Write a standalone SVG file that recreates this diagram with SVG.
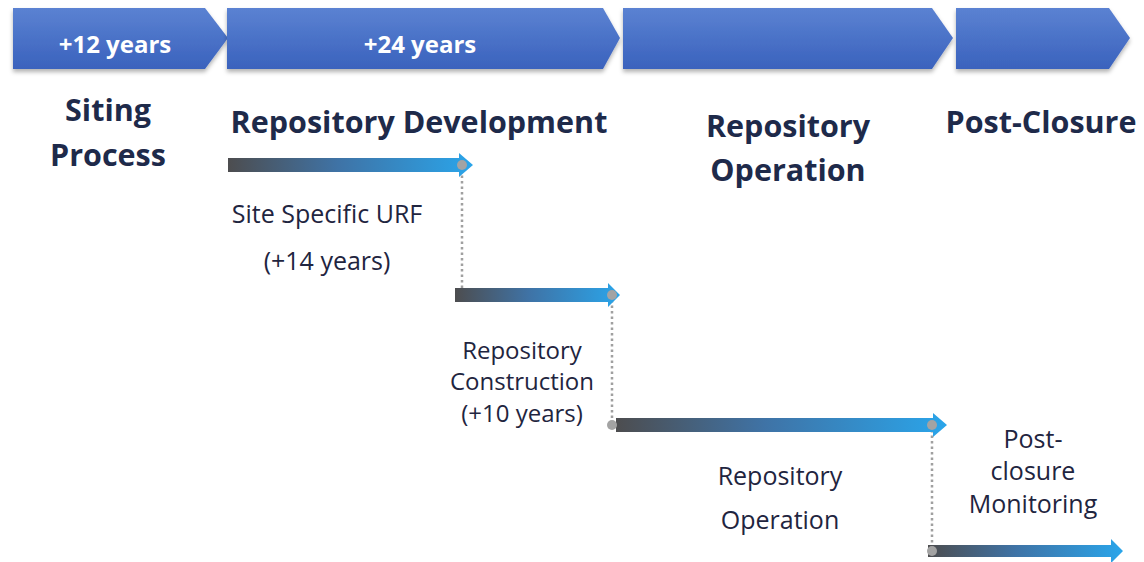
<svg xmlns="http://www.w3.org/2000/svg" width="1144" height="562" viewBox="0 0 1144 562">
<defs>
<linearGradient id="chev" x1="0" y1="0" x2="0" y2="1">
<stop offset="0" stop-color="#5b82d2"/>
<stop offset="1" stop-color="#3a62bd"/>
</linearGradient>
<linearGradient id="bar" x1="0" y1="0" x2="1" y2="0">
<stop offset="0" stop-color="#4d4d4f"/>
<stop offset="0.45" stop-color="#3f73a6"/>
<stop offset="1" stop-color="#2aa5ea"/>
</linearGradient>
<filter id="sh" x="-5%" y="-20%" width="110%" height="150%">
<feDropShadow dx="0" dy="3" stdDeviation="2" flood-color="#000" flood-opacity="0.3"/>
</filter>
</defs>
<style>
.chev{fill:url(#chev);filter:url(#sh)}
.ct{font-family:"Open Sans","Noto Sans",sans-serif;font-weight:bold;font-size:24px;fill:#fff;text-anchor:middle}
.h{font-family:"Open Sans","Noto Sans",sans-serif;font-weight:bold;font-size:30.5px;fill:#1e2a4a;text-anchor:middle}
.l{font-family:"Open Sans","Noto Sans",sans-serif;font-size:25px;fill:#1f2540;text-anchor:middle}
.s{font-size:24px}
.bar{fill:url(#bar)}
.dot{fill:#a3a3a3}
.dl{stroke:#a0a0a0;stroke-width:2.5;stroke-dasharray:2.5 3;fill:none}
</style>
<rect width="1144" height="562" fill="#fff"/>
<g id="chevrons">
<g id="chev1"><polygon class="chev" points="13,8 205,8 228,38 205,69 13,69"/><text class="ct" x="115" y="53">+12 years</text></g>
<g id="chev2"><polygon class="chev" points="227,8 603,8 620,38 603,69 227,69"/><text class="ct" x="420" y="53">+24 years</text></g>
<g id="chev3"><polygon class="chev" points="623,8 932,8 953,38 932,69 623,69"/></g>
<g id="chev4"><polygon class="chev" points="956,8 1109,8 1130,38 1109,69 956,69"/></g>
</g>
<g id="headings">
<g id="siting"><text class="h" x="108" y="121">Siting</text><text class="h" x="108" y="166">Process</text></g>
<g id="dev"><text class="h" x="419" y="133">Repository Development</text></g>
<g id="oper"><text class="h" x="788" y="137">Repository</text><text class="h" x="788" y="181">Operation</text></g>
<g id="post"><text class="h" x="1041" y="133">Post-Closure</text></g>
</g>
<g id="connectors">
<path class="dl" d="M462,170 V290"/>
<path class="dl" d="M612,300 V420"/>
<path class="dl" d="M932,430 V546"/>
</g>
<g id="bar1"><polygon class="bar" points="228,158 459,158 459,153 473,165 459,177 459,172 228,172"/><circle class="dot" cx="462" cy="165" r="5"/></g>
<g id="bar2"><polygon class="bar" points="455,288 608,288 608,283 620,295 608,307 608,302 455,302"/></g>
<g id="bar3"><circle class="dot" cx="612" cy="295" r="5"/><polygon class="bar" points="616,418 933,418 933,413 947,425 933,437 933,432 616,432"/><circle class="dot" cx="612" cy="425" r="5"/><circle class="dot" cx="932" cy="425" r="5"/></g>
<g id="bar4"><polygon class="bar" points="928,545 1111,545 1111,539 1123,551 1111,563 1111,557 928,557"/><circle class="dot" cx="932" cy="551" r="5"/></g>
<g id="labels">
<g id="l1"><text class="l" x="327" y="223">Site Specific URF</text><text class="l" x="327" y="270">(+14 years)</text></g>
<g id="l2"><text class="l s" x="522" y="359">Repository</text><text class="l s" x="522" y="390">Construction</text><text class="l s" x="522" y="422">(+10 years)</text></g>
<g id="l3"><text class="l" x="780" y="485">Repository</text><text class="l" x="780" y="529">Operation</text></g>
<g id="l4"><text class="l" x="1033" y="448">Post-</text><text class="l" x="1033" y="480">closure</text><text class="l" x="1033" y="513">Monitoring</text></g>
</g>
</svg>
